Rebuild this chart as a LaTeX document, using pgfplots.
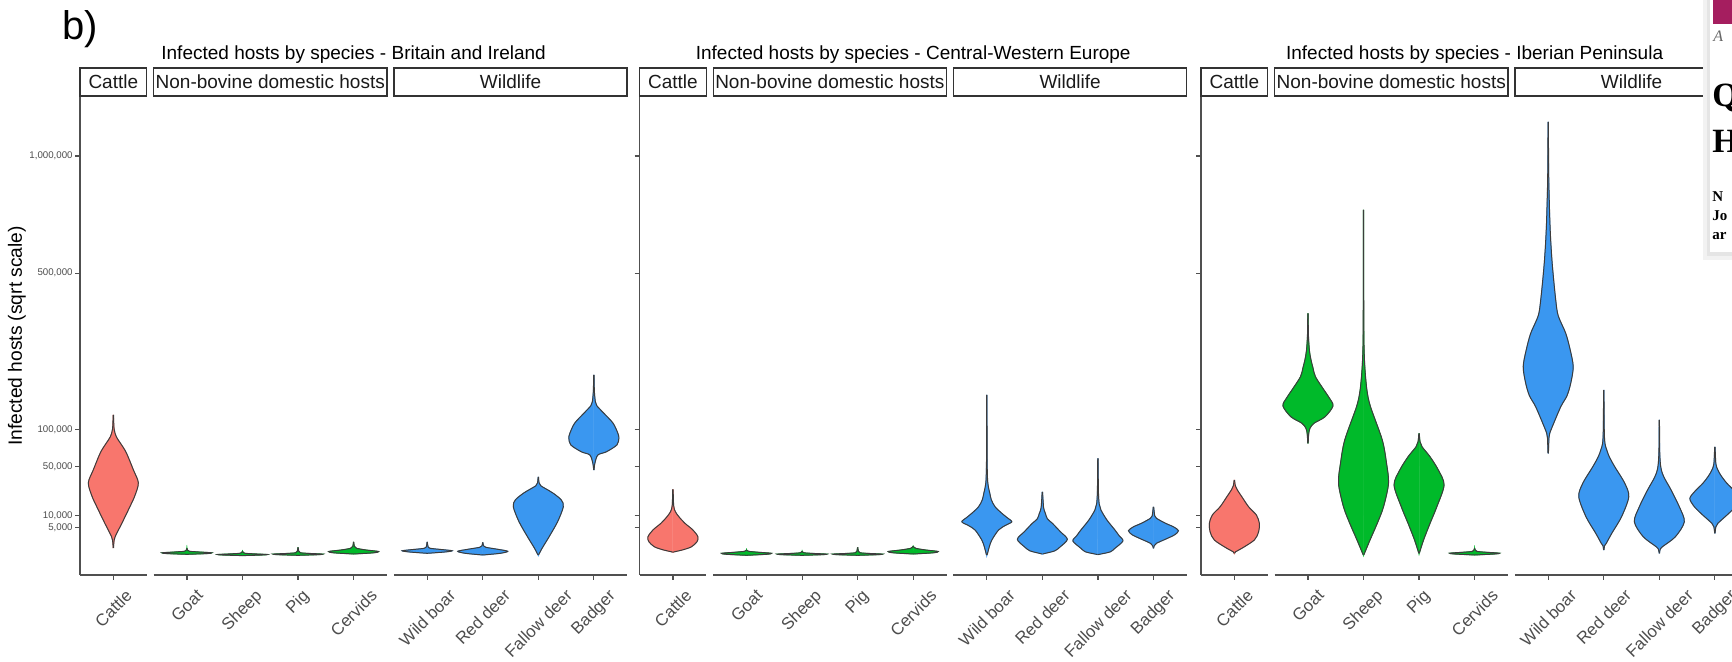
\documentclass[border=0pt]{standalone}
\usepackage{fontspec}
\setmainfont{Liberation Sans}
\newfontfamily\serifF{Liberation Serif}
\usepackage{graphicx}
\usepackage{pgfplots}
\pgfplotsset{compat=1.18}
\usepackage{pgfplotstable}

\definecolor{cattleC}{RGB}{248,118,109}
\definecolor{domC}{RGB}{0,186,42}
\definecolor{wildC}{RGB}{58,151,240}
\definecolor{vline}{RGB}{60,60,60}
\definecolor{axgray}{RGB}{80,80,80}
\definecolor{labgray}{RGB}{77,77,77}
\definecolor{stripC}{RGB}{51,51,51}
\definecolor{magC}{RGB}{165,30,95}

% ---- violin outlines: y = infected hosts (thousands), w = relative half width ----
% Britain and Ireland
\pgfplotstableread[row sep=\\]{y w\\ 0.381 0.008\\ 1.057 0.02\\ 2.259 0.07\\ 6.609 0.34\\ 15.02 0.66\\ 22.53 0.86\\ 33.34 1.0\\ 46.28 0.8\\ 66.38 0.52\\ 78.49 0.3\\ 88.60 0.12\\ 100.9 0.03\\ 124.4 0.008\\}\tAcattle
\pgfplotstableread[row sep=\\]{y w\\ 0.0141 0\\ 0.0303 0.8\\ 0.0563 1\\ 0.0904 0.5\\ 0.1267 0.1\\ 0.1893 0.03\\ 0.352 0.005\\}\tAgoat
\pgfplotstableread[row sep=\\]{y w\\ 0.00025 0\\ 0.004 0.8\\ 0.0106 1\\ 0.0226 0.5\\ 0.0391 0.1\\ 0.0681 0.03\\ 0.1267 0.005\\}\tAsheep
\pgfplotstableread[row sep=\\]{y w\\ 0.00156 0\\ 0.00757 0.8\\ 0.0181 1\\ 0.0331 0.5\\ 0.0563 0.1\\ 0.1267 0.03\\ 0.452 0.005\\}\tApig
\pgfplotstableread[row sep=\\]{y w\\ 0.0203 0\\ 0.0563 0.8\\ 0.1157 1\\ 0.2105 0.5\\ 0.352 0.12\\ 0.5647 0.03\\ 1.226 0.005\\}\tAcerv
\pgfplotstableread[row sep=\\]{y w\\ 0.0391 0\\ 0.0904 0.7\\ 0.1564 1\\ 0.2405 0.6\\ 0.352 0.12\\ 0.5647 0.03\\ 1.226 0.005\\}\tAboar
\pgfplotstableread[row sep=\\]{y w\\ 0.004 0\\ 0.0391 0.7\\ 0.1267 1\\ 0.2644 0.6\\ 0.452 0.12\\ 0.6257 0.03\\ 1.140 0.005\\}\tAred
\pgfplotstableread[row sep=\\]{y w\\ 0.004 0.01\\ 0.352 0.15\\ 2.259 0.43\\ 7.233 0.77\\ 15.02 1.0\\ 19.48 0.92\\ 24.44 0.6\\ 28.09 0.3\\ 30.66 0.1\\ 33.34 0.03\\ 39.05 0.008\\}\tAfallow
\pgfplotstableread[row sep=\\]{y w\\ 46.06 0.008\\ 53.54 0.04\\ 63.58 0.16\\ 67.68 0.5\\ 76.82 0.92\\ 86.39 1.0\\ 93.89 0.96\\ 109.9 0.77\\ 127.1 0.4\\ 140.8 0.12\\ 148.4 0.06\\ 170.3 0.02\\ 205.0 0.008\\}\tAbadger
% Central-Western Europe
\pgfplotstableread[row sep=\\]{y w\\ 0.08 0.01\\ 0.1001 0.06\\ 0.2253 0.4\\ 0.5068 0.74\\ 1.226 0.96\\ 2.259 1.0\\ 4.165 0.8\\ 6.609 0.48\\ 9.517 0.24\\ 12.11 0.1\\ 15.64 0.03\\ 27.67 0.008\\}\tBcattle
\pgfplotstableread[row sep=\\]{y w\\ 0.00156 0\\ 0.0141 0.8\\ 0.0391 1\\ 0.0767 0.5\\ 0.1267 0.08\\ 0.2253 0.005\\}\tBgoat
\pgfplotstableread[row sep=\\]{y w\\ 0.00156 0\\ 0.00757 0.8\\ 0.0181 1\\ 0.0331 0.5\\ 0.0563 0.08\\ 0.1267 0.005\\}\tBsheep
\pgfplotstableread[row sep=\\]{y w\\ 0.00156 0\\ 0.00757 0.8\\ 0.0181 1\\ 0.0331 0.5\\ 0.0563 0.1\\ 0.1267 0.03\\ 0.452 0.005\\}\tBpig
\pgfplotstableread[row sep=\\]{y w\\ 0.0203 0\\ 0.0563 0.8\\ 0.1157 1\\ 0.2105 0.5\\ 0.352 0.1\\ 0.5647 0.005\\}\tBcerv
\pgfplotstableread[row sep=\\]{y w\\ 0.004 0.01\\ 0.0391 0.03\\ 0.518 0.1\\ 1.562 0.2\\ 4.165 0.47\\ 5.821 0.75\\ 7.233 1.0\\ 9.035 0.82\\ 11.30 0.6\\ 15.02 0.33\\ 19.62 0.18\\ 24.44 0.12\\ 28.93 0.07\\ 36.14 0.03\\ 56.47 0.012\\ 97.77 0.008\\ 162.2 0.005\\}\tBboar
\pgfplotstableread[row sep=\\]{y w\\ 0.0203 0.01\\ 0.0391 0.12\\ 0.1564 0.5\\ 0.518 0.72\\ 1.703 1.0\\ 3.634 0.72\\ 6.609 0.4\\ 8.566 0.2\\ 11.30 0.12\\ 14.42 0.05\\ 25.63 0.008\\}\tBred
\pgfplotstableread[row sep=\\]{y w\\ 0.0100 0.01\\ 0.0203 0.12\\ 0.1001 0.5\\ 0.352 0.68\\ 1.371 1.0\\ 2.503 0.85\\ 4.165 0.68\\ 8.019 0.36\\ 13.12 0.12\\ 16.92 0.05\\ 26.44 0.02\\ 59.48 0.006\\}\tBfallow
\pgfplotstableread[row sep=\\]{y w\\ 0.352 0.008\\ 0.6257 0.03\\ 0.978 0.12\\ 1.916 0.56\\ 2.759 0.85\\ 3.942 1.0\\ 5.262 0.8\\ 6.609 0.48\\ 8.799 0.12\\ 10.01 0.05\\ 15.02 0.008\\}\tBbadger
% Iberian Peninsula
\pgfplotstableread[row sep=\\]{y w\\ 0.0391 0.008\\ 0.1052 0.05\\ 0.352 0.3\\ 1.562 0.8\\ 3.604 0.97\\ 6.609 1.0\\ 10.42 0.88\\ 15.02 0.57\\ 21.78 0.3\\ 27.09 0.12\\ 30.66 0.04\\ 35.95 0.008\\}\tCcattle
\pgfplotstableread[row sep=\\]{y w\\ 79.19 0.008\\ 93.13 0.03\\ 101.7 0.08\\ 109.9 0.24\\ 120.9 0.68\\ 140.4 1.0\\ 156.2 0.85\\ 172.0 0.64\\ 200.5 0.3\\ 221.1 0.2\\ 240.4 0.12\\ 262.9 0.06\\ 302.8 0.02\\ 368.0 0.006\\}\tCgoat
\pgfplotstableread[row sep=\\]{y w\\ 0.004 0.01\\ 1.562 0.26\\ 6.609 0.55\\ 15.02 0.8\\ 32.89 1.0\\ 53.54 0.92\\ 83.91 0.75\\ 138.9 0.28\\ 170.3 0.14\\ 216.5 0.06\\ 275.9 0.02\\ 391.1 0.01\\ 749.1 0.006\\}\tCsheep
\pgfplotstableread[row sep=\\]{y w\\ 0.0391 0.01\\ 1.562 0.18\\ 6.609 0.44\\ 15.02 0.71\\ 31.36 1.0\\ 46.06 0.77\\ 61.33 0.44\\ 74.34 0.12\\ 81.32 0.04\\ 93.89 0.008\\}\tCpig
\pgfplotstableread[row sep=\\]{y w\\ 0.004 0\\ 0.0203 0.8\\ 0.0423 1\\ 0.0767 0.5\\ 0.1267 0.08\\ 0.352 0.005\\}\tCcerv
\pgfplotstableread[row sep=\\]{y w\\ 65.73 0.008\\ 87.12 0.03\\ 93.89 0.06\\ 104.1 0.16\\ 138.9 0.5\\ 160.2 0.75\\ 186.2 0.9\\ 223.5 1.0\\ 265.0 0.88\\ 309.8 0.7\\ 360.4 0.4\\ 409.4 0.3\\ 522.6 0.17\\ 620.9 0.1\\ 719.1 0.06\\ 903.5 0.02\\ 1178.6 0.006\\}\tCboar
\pgfplotstableread[row sep=\\]{y w\\ 0.2105 0.008\\ 0.6257 0.03\\ 0.978 0.1\\ 3.168 0.32\\ 9.517 0.71\\ 21.78 1.0\\ 32.89 0.84\\ 49.56 0.44\\ 61.33 0.22\\ 70.04 0.12\\ 78.49 0.05\\ 97.77 0.02\\ 172.0 0.006\\}\tCred
\pgfplotstableread[row sep=\\]{y w\\ 0.0391 0.008\\ 0.2253 0.03\\ 0.5068 0.12\\ 2.259 0.64\\ 7.233 1.0\\ 15.02 0.8\\ 27.09 0.47\\ 36.14 0.24\\ 42.59 0.12\\ 50.68 0.05\\ 68.98 0.015\\ 115.4 0.006\\}\tCfallow
\pgfplotstableread[row sep=\\]{y w\\ 3.168 0.008\\ 5.262 0.04\\ 6.609 0.12\\ 11.30 0.56\\ 15.64 0.85\\ 20.69 1.0\\ 26.44 0.78\\ 32.89 0.48\\ 40.04 0.25\\ 46.06 0.12\\ 52.96 0.04\\ 74.34 0.008\\}\tCbadger

% a violin: two filled halves, then the two outlines
\newcommand\vio[3]{%
  \addplot[fill=#2, draw=#2, line width=0.4pt, smooth, tension=0.5, forget plot] table[x expr={#1-0.45*\thisrow{w}}, y=y] {#3} -- cycle;
  \addplot[fill=#2, draw=#2, line width=0.4pt, smooth, tension=0.5, forget plot] table[x expr={#1+0.45*\thisrow{w}}, y=y] {#3} -- cycle;
  \addplot[draw=vline, line width=0.5pt, smooth, tension=0.5, forget plot] table[x expr={#1-0.45*\thisrow{w}}, y=y] {#3};
  \addplot[draw=vline, line width=0.5pt, smooth, tension=0.5, forget plot] table[x expr={#1+0.45*\thisrow{w}}, y=y] {#3};
}
\newcommand\baxis{%
  \draw[axgray, line width=0.8pt] (rel axis cs:0,0) -- (rel axis cs:0.121827,0);
  \draw[axgray, line width=0.8pt] (rel axis cs:0.134518,0) -- (rel axis cs:0.560914,0);
  \draw[axgray, line width=0.8pt] (rel axis cs:0.573604,0) -- (rel axis cs:1,0);
}
\newcommand\rl[1]{\rotatebox{45}{#1}}

\pgfplotsset{
  vpanel/.style={
    scale only axis, width=273.59pt, height=239.25pt,
    xmin=0, xmax=9.85,
    % square-root scale: data in thousands of hosts, axis positions in sqrt(thousands)
    y filter/.expression={sqrt(y)},
    ymin=-1.5186, ymax=36.332,
    axis x line=bottom, axis y line=left,
    x axis line style={draw=none},
    y axis line style={-, draw=axgray, line width=0.8pt},
    tick align=outside, major tick length=2.5pt,
    tick style={draw=axgray, line width=0.6pt},
    xtick={0.6,1.925,2.925,3.925,4.925,6.25,7.25,8.25,9.25},
    xticklabels={\rl{Cattle},\rl{Goat},\rl{Sheep},\rl{Pig},\rl{Cervids},\rl{Wild boar},\rl{Red deer},\rl{Fallow deer},\rl{Badger}},
    xticklabel style={anchor=north, yshift=-4pt, inner sep=0pt, font=\fontsize{8.4}{10}\selectfont, text=labgray},
    ytick={2.23607,3.16228,7.07107,10,22.36068,31.62278},
    yticklabels={{5,000},{10,000},{50,000},{100,000},{500,000},{1,000,000}},
    yticklabel style={font=\fontsize{4.85}{5}\selectfont, text=labgray, inner sep=1pt},
    clip=false,
  },
}

\newcommand\strips[1]{%
  \draw[stripC, line width=0.7pt, fill=white] (#1,566) rectangle ++(66.66,28);
  \node[font=\fontsize{9.5}{10}\selectfont, text={rgb,255:red,26;green,26;blue,26}] at (#1+33.33,580) {Cattle};
  \draw[stripC, line width=0.7pt, fill=white] (#1+73.6,566) rectangle (#1+306.91,594);
  \node[font=\fontsize{9.5}{10}\selectfont, text={rgb,255:red,26;green,26;blue,26}] at (#1+190.25,580) {Non-bovine domestic hosts};
  \draw[stripC, line width=0.7pt, fill=white] (#1+313.86,566) rectangle (#1+547.17,594);
  \node[font=\fontsize{9.5}{10}\selectfont, text={rgb,255:red,26;green,26;blue,26}] at (#1+430.5,580) {Wildlife};
}

\begin{document}
\begin{tikzpicture}[x=0.5pt,y=0.5pt]
\fill[white] (0,0) rectangle (1732,662);

% Panel 1
\begin{axis}[vpanel, at={(40pt,43.5pt)}, anchor=south west]
  \vio{0.6}{cattleC}{\tAcattle}
  \vio{1.925}{domC}{\tAgoat}
  \vio{2.925}{domC}{\tAsheep}
  \vio{3.925}{domC}{\tApig}
  \vio{4.925}{domC}{\tAcerv}
  \vio{6.25}{wildC}{\tAboar}
  \vio{7.25}{wildC}{\tAred}
  \vio{8.25}{wildC}{\tAfallow}
  \vio{9.25}{wildC}{\tAbadger}
  \baxis
\end{axis}

% Panel 2
\begin{axis}[vpanel, at={(319.8pt,43.5pt)}, anchor=south west, yticklabels={}]
  \vio{0.6}{cattleC}{\tBcattle}
  \vio{1.925}{domC}{\tBgoat}
  \vio{2.925}{domC}{\tBsheep}
  \vio{3.925}{domC}{\tBpig}
  \vio{4.925}{domC}{\tBcerv}
  \vio{6.25}{wildC}{\tBboar}
  \vio{7.25}{wildC}{\tBred}
  \vio{8.25}{wildC}{\tBfallow}
  \vio{9.25}{wildC}{\tBbadger}
  \baxis
\end{axis}

% Panel 3
\begin{axis}[vpanel, at={(600.5pt,43.5pt)}, anchor=south west, yticklabels={}]
  \vio{0.6}{cattleC}{\tCcattle}
  \vio{1.925}{domC}{\tCgoat}
  \vio{2.925}{domC}{\tCsheep}
  \vio{3.925}{domC}{\tCpig}
  \vio{4.925}{domC}{\tCcerv}
  \vio{6.25}{wildC}{\tCboar}
  \vio{7.25}{wildC}{\tCred}
  \vio{8.25}{wildC}{\tCfallow}
  \vio{9.25}{wildC}{\tCbadger}
  \baxis
\end{axis}

% strips and titles
\strips{80}
\strips{639.6}
\strips{1201}
\node[anchor=base, font=\fontsize{9.5}{10}\selectfont] at (353.6,602) {Infected hosts by species - Britain and Ireland};
\node[anchor=base, font=\fontsize{9.5}{10}\selectfont] at (913.2,602) {Infected hosts by species - Central-Western Europe};
\node[anchor=base, font=\fontsize{9.5}{10}\selectfont] at (1474.6,602) {Infected hosts by species - Iberian Peninsula};
\node[rotate=90, font=\fontsize{9.6}{10}\selectfont] at (17,326) {Infected hosts (sqrt scale)};
\node[anchor=base west, inner sep=0pt, font=\fontsize{20}{20}\selectfont] at (62,622) {b)};

% overlapping page fragment at the right edge
\fill[black!5] (1703,402) rectangle (1740,670);
\fill[black!10] (1707,406) rectangle (1740,670);
\fill[white] (1710,410) rectangle (1740,670);
\fill[magC] (1713,638) rectangle (1740,670);
\node[anchor=base west, inner sep=0pt, font=\serifF\itshape\fontsize{8}{8}\selectfont, text=black!60] at (1713,620) {A};
\node[anchor=base west, inner sep=0pt, font=\serifF\bfseries\fontsize{17}{17}\selectfont] at (1712,555) {Q};
\node[anchor=base west, inner sep=0pt, font=\serifF\bfseries\fontsize{17}{17}\selectfont] at (1712,509) {H};
\node[anchor=base west, inner sep=0pt, font=\serifF\bfseries\fontsize{7.5}{8}\selectfont] at (1712,460) {N};
\node[anchor=base west, inner sep=0pt, font=\serifF\bfseries\fontsize{7.5}{8}\selectfont] at (1712,441) {Jo};
\node[anchor=base west, inner sep=0pt, font=\serifF\bfseries\fontsize{7.5}{8}\selectfont] at (1712,422) {ar};
\pgfresetboundingbox
\useasboundingbox (0,0) rectangle (1732,662);
\end{tikzpicture}
\end{document}
